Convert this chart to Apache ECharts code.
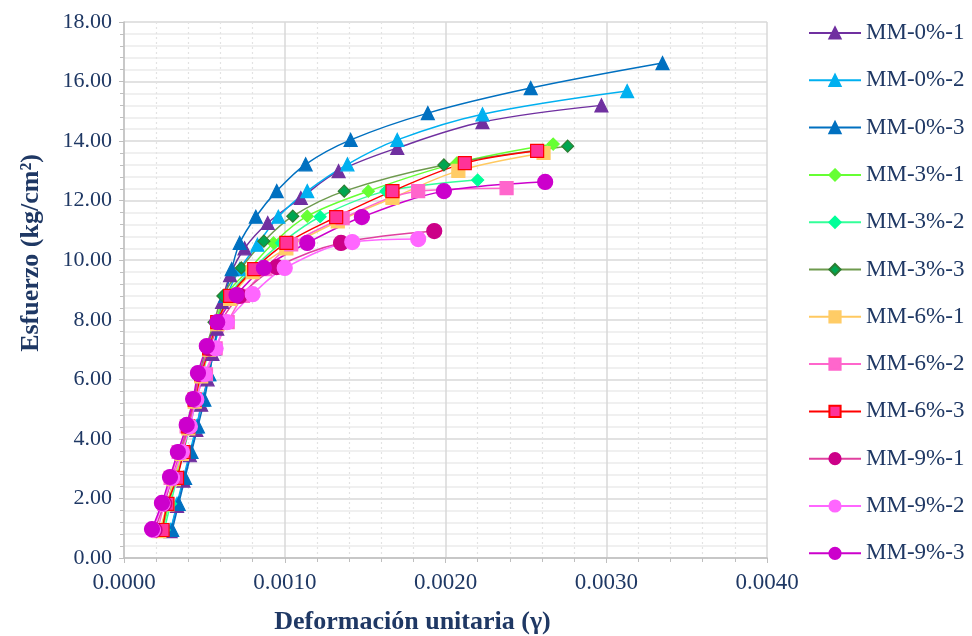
<!DOCTYPE html>
<html><head><meta charset="utf-8">
<script src="https://cdn.jsdelivr.net/npm/echarts@6/dist/echarts.min.js"></script>
<style>html,body{margin:0;padding:0;background:#fff}#c{width:972px;height:636px}</style>
</head><body><div id="c"></div>
<script>
// Strain values (γ) and stress values (kg/cm²) per specimen
const names = ["MM-0%-1","MM-0%-2","MM-0%-3","MM-3%-1","MM-3%-2","MM-3%-3","MM-6%-1","MM-6%-2","MM-6%-3","MM-9%-1","MM-9%-2","MM-9%-3"];

const mm0_1_strain = [0.00029,0.00033,0.00037,0.00041,0.00045,0.00048,0.00052,0.00055,0.00058,0.00061,0.00066,0.00075,0.000894,0.00110,0.001335,0.00170,0.00223,0.00297];
const mm0_1_stress = [0.90,1.75,2.60,3.45,4.30,5.15,6.00,6.85,7.70,8.60,9.50,10.40,11.25,12.09,12.99,13.77,14.64,15.20];

const mm0_2_strain = [0.00029,0.00033,0.00037,0.00041,0.00045,0.00049,0.00053,0.00056,0.00060,0.00064,0.00072,0.00083,0.00096,0.00114,0.00139,0.00170,0.00223,0.00313];
const mm0_2_stress = [0.94,1.82,2.69,3.56,4.42,5.32,6.17,7.04,7.92,8.80,9.70,10.52,11.46,12.32,13.22,14.04,14.90,15.68];

const mm0_3_strain = [0.00030,0.00034,0.00038,0.00042,0.00046,0.00050,0.00053,0.00056,0.00059,0.00063,0.00067,0.00072,0.00082,0.00095,0.00113,0.00141,0.00189,0.00253,0.00335];
const mm0_3_stress = [0.94,1.82,2.69,3.56,4.42,5.32,6.17,7.04,7.92,8.80,9.70,10.58,11.46,12.32,13.22,14.04,14.94,15.78,16.62];

const mm3_1_strain = [0.00024,0.00028,0.00032,0.00036,0.00040,0.00044,0.00048,0.00052,0.00057,0.00063,0.00078,0.00093,0.00114,0.00152,0.00207,0.00267];
const mm3_1_stress = [0.94,1.82,2.69,3.56,4.42,5.32,6.17,7.04,7.92,8.80,9.70,10.58,11.48,12.32,13.26,13.90];

const mm3_2_strain = [0.00025,0.00029,0.00033,0.00037,0.00041,0.00045,0.00049,0.00053,0.00058,0.00065,0.00080,0.00098,0.00122,0.00163,0.00220];
const mm3_2_stress = [0.94,1.82,2.69,3.56,4.42,5.32,6.17,7.04,7.92,8.80,9.70,10.58,11.46,12.32,12.69];

const mm3_3_strain = [0.00023,0.00027,0.00031,0.00035,0.00039,0.00043,0.00047,0.00051,0.00056,0.000615,0.00073,0.00087,0.00105,0.00137,0.00199,0.00276];
const mm3_3_stress = [0.94,1.82,2.69,3.56,4.42,5.32,6.17,7.04,7.92,8.80,9.74,10.64,11.48,12.32,13.20,13.83];

const mm6_1_strain = [0.00022,0.00027,0.00031,0.00036,0.00040,0.00044,0.00048,0.00053,0.00058,0.00066,0.00080,0.00101,0.00133,0.00167,0.00208,0.00261];
const mm6_1_stress = [0.90,1.80,2.65,3.50,4.35,5.25,6.10,7.00,7.85,8.70,9.60,10.40,11.30,12.09,13.00,13.60];

const mm6_2_strain = [0.00021,0.00025,0.00029,0.00034,0.00039,0.00044,0.00051,0.00057,0.000645,0.00074,0.00088,0.00104,0.00136,0.00183,0.00238];
const mm6_2_stress = [0.94,1.82,2.69,3.56,4.42,5.32,6.17,7.04,7.92,8.80,9.70,10.53,11.41,12.32,12.42];

const mm6_3_strain = [0.00024,0.00027,0.00033,0.00037,0.00040,0.00044,0.00048,0.00053,0.00058,0.00066,0.00081,0.00101,0.00132,0.00167,0.00212,0.00257];
const mm6_3_stress = [0.94,1.82,2.69,3.56,4.42,5.32,6.17,7.04,7.92,8.80,9.70,10.58,11.45,12.32,13.26,13.67];

const mm9_1_strain = [0.00019,0.00025,0.00030,0.00035,0.00040,0.00044,0.00047,0.00053,0.00060,0.00072,0.00095,0.00135,0.00193];
const mm9_1_stress = [0.94,1.82,2.69,3.56,4.42,5.32,6.17,7.04,7.92,8.80,9.77,10.58,10.98];

const mm9_2_strain = [0.00018,0.00024,0.00030,0.00036,0.00041,0.00045,0.00050,0.00057,0.00064,0.00080,0.00100,0.00142,0.00183];
const mm9_2_stress = [0.94,1.82,2.69,3.56,4.42,5.32,6.17,7.04,7.92,8.86,9.74,10.61,10.71];

const mm9_3_strain = [0.000174,0.000236,0.000286,0.000335,0.00039,0.00043,0.00046,0.000515,0.00058,0.00070,0.00087,0.00114,0.00148,0.00199,0.00262];
const mm9_3_stress = [0.97,1.85,2.72,3.56,4.47,5.34,6.21,7.12,7.92,8.83,9.74,10.58,11.45,12.32,12.63];

const strains = [mm0_1_strain,mm0_2_strain,mm0_3_strain,mm3_1_strain,mm3_2_strain,mm3_3_strain,mm6_1_strain,mm6_2_strain,mm6_3_strain,mm9_1_strain,mm9_2_strain,mm9_3_strain];
const stresses = [mm0_1_stress,mm0_2_stress,mm0_3_stress,mm3_1_stress,mm3_2_stress,mm3_3_stress,mm6_1_stress,mm6_2_stress,mm6_3_stress,mm9_1_stress,mm9_2_stress,mm9_3_stress];

const xTicks = [0,0.001,0.002,0.003,0.004];
const yTicks = [0,2,4,6,8,10,12,14,16,18];

const styles = [
  {line:"#7030A0", fill:"#7030A0", border:"#7030A0", symbol:"triangle", size:13},
  {line:"#00B0F0", fill:"#00B0F0", border:"#00B0F0", symbol:"triangle", size:13},
  {line:"#0070C0", fill:"#0070C0", border:"#0070C0", symbol:"triangle", size:13},
  {line:"#66FF33", fill:"#66FF33", border:"#66FF33", symbol:"diamond", size:12},
  {line:"#33FF99", fill:"#00FF99", border:"#00FF99", symbol:"diamond", size:12},
  {line:"#6E9A4E", fill:"#00A651", border:"#2E7D32", symbol:"diamond", size:12},
  {line:"#FFC960", fill:"#FFCC66", border:"#FFCC66", symbol:"rect", size:13},
  {line:"#FF66CC", fill:"#FF66CC", border:"#FF66CC", symbol:"rect", size:13},
  {line:"#FF0000", fill:"#FF3399", border:"#FF0000", symbol:"rect", size:13},
  {line:"#E0409F", fill:"#CC0088", border:"#CC0088", symbol:"circle", size:15},
  {line:"#FF66FF", fill:"#FF66FF", border:"#FF66FF", symbol:"circle", size:15},
  {line:"#CC00CC", fill:"#CC00CC", border:"#CC00CC", symbol:"circle", size:15}
];

const textColor = "#1F3864";
const font = "'Liberation Serif','Times New Roman',serif";

const series = names.map((n,i)=>({
  name:n, type:"line", smooth:0.35,
  data: strains[i].map((s,j)=>[s, stresses[i][j]]),
  symbol: styles[i].symbol, symbolSize: styles[i].size,
  lineStyle:{color:styles[i].line, width:1.5},
  itemStyle:{color:styles[i].fill, borderColor:styles[i].border, borderWidth:1.2},
  emphasis:{disabled:true}
}));

const chart = echarts.init(document.getElementById('c'), null, {renderer:'canvas'});
chart.setOption({
  animation:false,
  backgroundColor:"#ffffff",
  grid:{left:124, right:205, top:22, bottom:78, outerBoundsMode:'none', containLabel:false},
  legend:{
    orient:"vertical", left:808, top:21, padding:0, itemWidth:52, itemHeight:14, itemGap:23.3,
    textStyle:{fontFamily:font, fontSize:23, lineHeight:24, color:textColor},
    data:names
  },
  xAxis:{
    type:"value", min:xTicks[0], max:xTicks[xTicks.length-1], interval:0.001,
    name:"Deformación unitaria (γ)", nameLocation:"middle", nameGap:51,
    nameTextStyle:{fontFamily:font, fontSize:26, fontWeight:"bold", color:textColor, padding:[0,66,0,0]},
    axisLine:{lineStyle:{color:"#BFBFBF", width:1.5}},
    axisTick:{show:true, lineStyle:{color:"#BFBFBF"}, length:5},
    minorTick:{show:true, splitNumber:5, length:4, lineStyle:{color:"#BFBFBF"}},
    axisLabel:{fontFamily:font, fontSize:23, color:textColor, margin:13, formatter:v=>v.toFixed(4)},
    splitLine:{show:true, lineStyle:{color:"#D9D9D9", width:1.5}},
    minorSplitLine:{show:true, lineStyle:{color:"#E3E3E3", type:[2,3], width:1.2}}
  },
  yAxis:{
    type:"value", min:yTicks[0], max:yTicks[yTicks.length-1], interval:2,
    name:"Esfuerzo (kg/cm²)", nameLocation:"middle", nameGap:80, nameRotate:90,
    nameTextStyle:{fontFamily:font, fontSize:26, fontWeight:"bold", color:textColor, padding:[0,0,0,74]},
    axisLine:{show:true, lineStyle:{color:"#BFBFBF", width:1.5}},
    axisTick:{show:true, lineStyle:{color:"#BFBFBF"}, length:5},
    minorTick:{show:true, splitNumber:5, length:4, lineStyle:{color:"#BFBFBF"}},
    axisLabel:{fontFamily:font, fontSize:22, color:textColor, margin:12, formatter:v=>v.toFixed(2)},
    splitLine:{show:true, lineStyle:{color:"#D9D9D9", width:1.5}},
    minorSplitLine:{show:true, lineStyle:{color:"#EBEBEB", width:1.5}}
  },
  series:series
});
</script>
</body></html>
